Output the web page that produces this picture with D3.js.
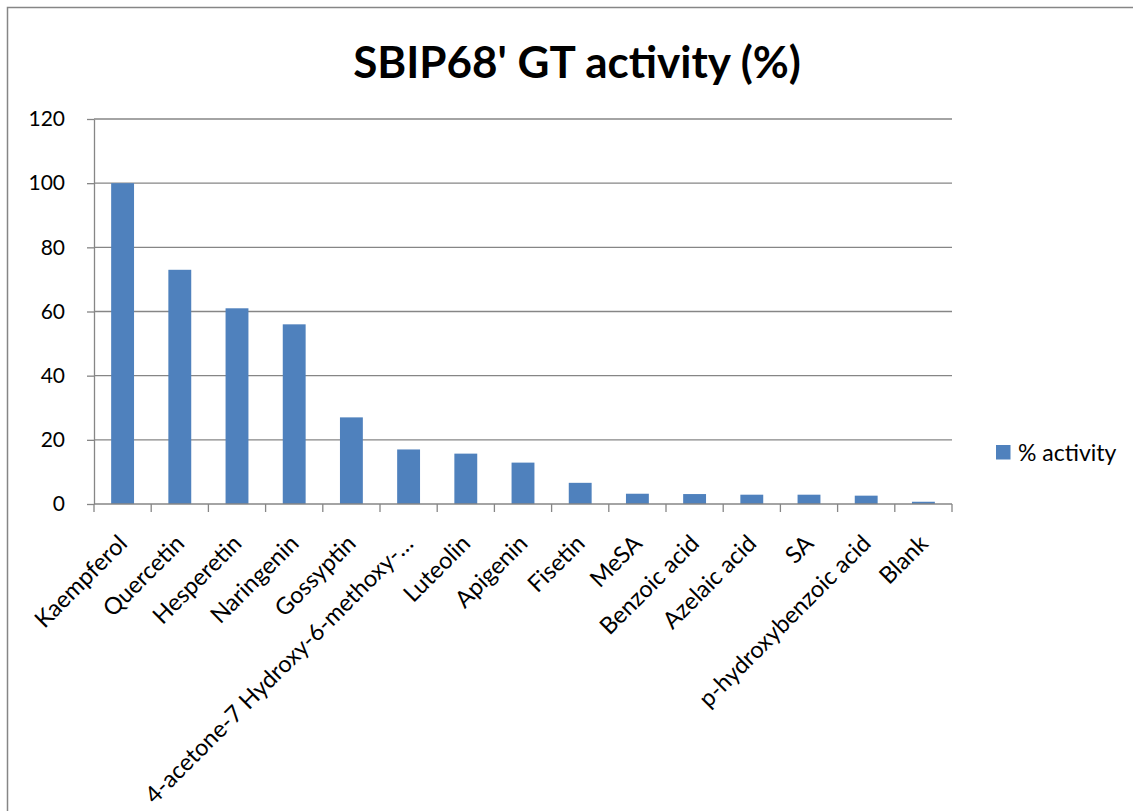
<!DOCTYPE html>
<html>
<head>
<meta charset="utf-8">
<script src="https://cdn.jsdelivr.net/npm/d3@7"></script>
<style>
  html, body { margin: 0; padding: 0; background: #fff; }
  svg { display: block; font-family: Lato, "Open Sans", sans-serif; }
</style>
</head>
<body>
<svg id="chart" width="1133" height="811"></svg>
<script>
// Substrates tested and relative glucosyltransferase activity
const categories = [
  "Kaempferol", "Quercetin", "Hesperetin", "Naringenin", "Gossyptin",
  "4-acetone-7 Hydroxy-6-methoxy-…", "Luteolin", "Apigenin", "Fisetin", "MeSA",
  "Benzoic acid", "Azelaic acid", "SA", "p-hydroxybenzoic acid", "Blank"
];
const activity = [100, 73, 61, 56, 27, 17, 15.7, 12.9, 6.6, 3.2, 3.1, 2.9, 2.9, 2.6, 0.7];
const yTicks = [0, 20, 40, 60, 80, 100, 120];
const seriesName = "% activity";
const chartTitle = "SBIP68' GT activity (%)";

const W = 1133, H = 811;
const plot = { left: 94, right: 952, top: 119, bottom: 504 };
const barColor = "#4F81BD";
const lineColor = "#868686";

const svg = d3.select("#chart");
svg.append("rect").attr("width", W).attr("height", H).attr("fill", "#fff");

// chart-area frame (left and top edges)
svg.append("path")
  .attr("d", `M7.5,${H} V7.5 H${W}`)
  .attr("fill", "none").attr("stroke", lineColor).attr("stroke-width", 1.5);

const x = d3.scaleBand()
  .domain(categories)
  .range([plot.left, plot.right])
  .paddingInner(0.6)
  .paddingOuter(0.3);

const y = d3.scaleLinear().domain([0, 120]).range([plot.bottom, plot.top]);

// horizontal gridlines
svg.append("g")
  .selectAll("line")
  .data(yTicks.filter(t => t > 0))
  .join("line")
  .attr("x1", plot.left).attr("x2", plot.right)
  .attr("y1", d => y(d)).attr("y2", d => y(d))
  .attr("stroke", lineColor).attr("stroke-width", 1.3);

// bars
svg.append("g")
  .selectAll("rect")
  .data(categories.map((c, i) => ({ c, v: activity[i] })))
  .join("rect")
  .attr("x", d => x(d.c))
  .attr("width", x.bandwidth())
  .attr("y", d => y(d.v))
  .attr("height", d => y(0) - y(d.v))
  .attr("fill", barColor);

// y axis
const yAxis = svg.append("g")
  .attr("transform", `translate(${plot.left},0)`)
  .call(d3.axisLeft(y).tickValues(yTicks).tickSize(7).tickSizeOuter(0).tickPadding(22));
yAxis.select(".domain").attr("stroke", lineColor).attr("stroke-width", 1.3);
yAxis.selectAll(".tick line").attr("stroke", lineColor).attr("stroke-width", 1.3);
yAxis.selectAll(".tick text")
  .attr("fill", "#000").attr("font-size", 21).attr("font-family", "Lato, sans-serif");

// x axis: baseline, ticks between categories, rotated category labels
const xAxis = svg.append("g").attr("transform", `translate(0,${plot.bottom})`);
xAxis.append("line")
  .attr("x1", plot.left).attr("x2", plot.right)
  .attr("stroke", lineColor).attr("stroke-width", 1.3);
xAxis.selectAll("line.tick")
  .data(d3.range(categories.length + 1))
  .join("line")
  .attr("class", "tick")
  .attr("x1", i => x.range()[0] + i * x.step())
  .attr("x2", i => x.range()[0] + i * x.step())
  .attr("y1", 0).attr("y2", 8)
  .attr("stroke", lineColor).attr("stroke-width", 1.3);
xAxis.selectAll("text")
  .data(categories)
  .join("text")
  .attr("transform", d => `translate(${x(d) + x.bandwidth() / 2 + 6},${41}) rotate(-45)`)
  .attr("text-anchor", "end")
  .attr("font-size", 23.5)
  .attr("fill", "#000")
  .text(d => d);

// title
svg.append("text")
  .attr("x", 577).attr("y", 78)
  .attr("text-anchor", "middle")
  .attr("font-size", 44).attr("font-weight", "bold")
  .attr("fill", "#000")
  .text(chartTitle);

// legend
const legend = svg.append("g").attr("transform", "translate(996,445)");
legend.append("rect").attr("width", 14.5).attr("height", 14.5).attr("fill", barColor);
legend.append("text")
  .attr("x", 22).attr("y", 15.5)
  .attr("font-size", 23).attr("fill", "#000")
  .text(seriesName);
</script>
</body>
</html>
